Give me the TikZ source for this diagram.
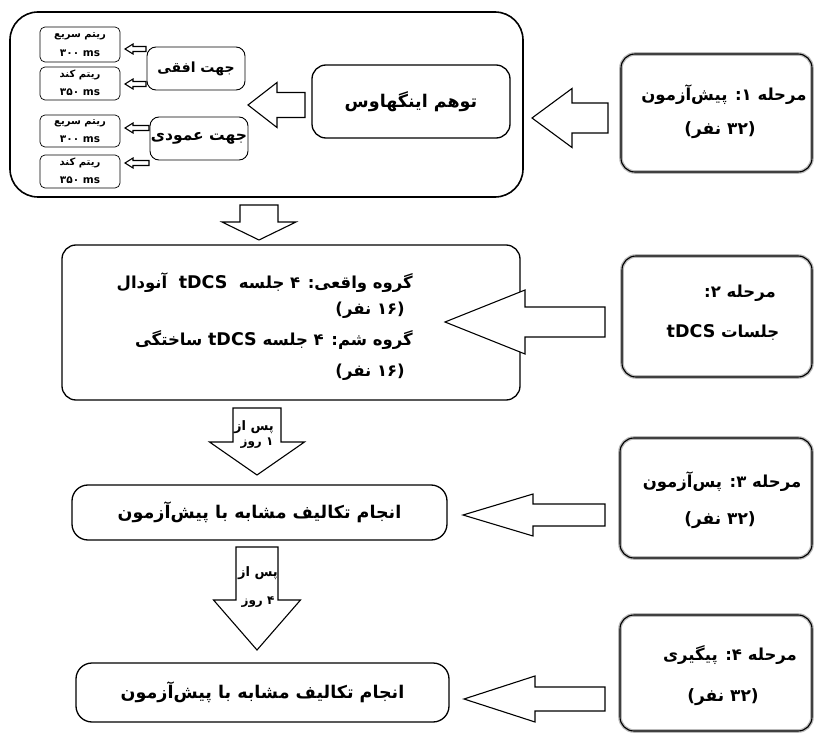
\documentclass[tikz,border=0pt]{standalone}
\usepackage{fontspec}
\TeXXeTstate=1
\newfontfamily\fa[Script=Arabic]{DejaVu Sans}
\newfontfamily\la{DejaVu Sans}
\newcommand\rl[1]{\beginR #1\endR}
% Latin run inside right-to-left text, at a given size
\newcommand\lt[2]{\beginL{\la\bfseries\fontsize{#1}{#1}\selectfont #2}\endL{}}

% left-pointing hollow block arrow: tip x, tail x, centre y, head length, head half-width, shaft half-width
\newcommand\larr[6]{%
  \draw[blk] (#1,#3) -- (#1+#4,#3-#5) -- (#1+#4,#3-#6) -- (#2,#3-#6)
    -- (#2,#3+#6) -- (#1+#4,#3+#6) -- (#1+#4,#3+#5) -- cycle;}
% downward hollow block arrow: centre x, top y, tip y, head length, head half-width, shaft half-width
\newcommand\darr[6]{%
  \draw[blk] (#1,#3) -- (#1-#5,#3-#4) -- (#1-#6,#3-#4) -- (#1-#6,#2)
    -- (#1+#6,#2) -- (#1+#6,#3-#4) -- (#1+#5,#3-#4) -- cycle;}

\begin{document}
\begin{tikzpicture}[x=1pt,y=-1pt,
  rbox/.style={draw, line width=1.3, rounded corners=14, inner sep=0pt},
  smallbox/.style={draw, line width=0.7, rounded corners=5, inner sep=0pt},
  dirbox/.style={draw, line width=0.9, rounded corners=9, inner sep=0pt},
  stagebox/.style={draw, line width=1.1, rounded corners=14, inner sep=0pt,
    preaction={draw=gray!55, line width=3.6}},
  blk/.style={draw, line width=1.1, fill=white, line join=miter},
  fatxt/.style={inner sep=0pt, font=\fa\bfseries\fontsize{#1}{#1}\selectfont},
  fatxt/.default=13]
\useasboundingbox (0,0) rectangle (815,733);

% ---------- stage 1: pre-test ----------
\node[rbox, rounded corners=28, line width=1.6, minimum width=513, minimum height=185] (outer) at (266.5,104.5) {};
\node[rbox, minimum width=198, minimum height=73] (tav) at (411,101.5) {};
\node[fatxt=17.5] (tavt) at (tav.center) {\rl{توهم اینگهاوس}};

\node[dirbox, minimum width=98, minimum height=43] (dirH) at (196,68.5) {};
\node[fatxt=14] (dirHt) at (dirH.center) {\rl{جهت افقی}};
\node[dirbox, minimum width=98, minimum height=43] (dirV) at (199,138.5) {};
\node[fatxt=15.5] (dirVt) at (dirV.center) {\rl{جهت عمودی}};

\node[smallbox, minimum width=80, minimum height=35] (r1) at (80,44.5) {};
\node[smallbox, minimum width=80, minimum height=33] (r2) at (80,83.5) {};
\node[smallbox, minimum width=80, minimum height=32] (r3) at (80,131) {};
\node[smallbox, minimum width=80, minimum height=33] (r4) at (80,171.5) {};
\node[fatxt=10] (r1a) at (80,36) {\rl{ریتم سریع}};
\node[fatxt=10.5] (r1b) at (80,53) {۳۰۰ \lt{10.5}{ms}};
\node[fatxt=10] (r2a) at (80,75) {\rl{ریتم کند}};
\node[fatxt=10.5] (r2b) at (80,92) {۳۵۰ \lt{10.5}{ms}};
\node[fatxt=10] (r3a) at (80,123) {\rl{ریتم سریع}};
\node[fatxt=10.5] (r3b) at (80,139) {۳۰۰ \lt{10.5}{ms}};
\node[fatxt=10] (r4a) at (80,163) {\rl{ریتم کند}};
\node[fatxt=10.5] (r4b) at (80,180) {۳۵۰ \lt{10.5}{ms}};

\larr{125}{146}{49}{8}{5}{2.5}
\larr{125}{146}{84}{8}{5}{2.5}
\larr{125}{149}{128}{8}{5}{2.5}
\larr{125}{149}{163}{8}{5}{2.5}
\larr{248}{305}{105}{29}{22.5}{12.5}

\node[stagebox, minimum width=191, minimum height=118] (s1) at (716.5,113) {};
\node[fatxt=16.5] (s1a) at (724,95) {\rl{مرحله ۱: پیش^^^^200cآزمون}};
\node[fatxt=17] (s1b) at (720,130) {\rl{(۳۲ نفر)}};
\larr{532}{608}{118}{40}{29.5}{15}

% ---------- stage 2: tDCS sessions ----------
\darr{259}{205}{240}{18}{37}{19}
\node[rbox, minimum width=458, minimum height=155] (tdcs) at (291,322.5) {};
\node[fatxt=16.5, anchor=east] (g1) at (413,283) {\rl{گروه واقعی: ۴ جلسه \ \lt{17.5}{tDCS} \ آنودال}};
\node[fatxt=16.5, anchor=east] (g1n) at (405,310) {\rl{(۱۶ نفر)}};
\node[fatxt=16.5, anchor=east] (g2) at (413,340) {\rl{گروه شم: ۴ جلسه \lt{17.5}{tDCS} ساختگی}};
\node[fatxt=16.5, anchor=east] (g2n) at (405,372) {\rl{(۱۶ نفر)}};

\node[stagebox, minimum width=190, minimum height=121] (s2) at (717,316.5) {};
\node[fatxt=16.5] (s2a) at (740,293) {\rl{مرحله ۲:}};
\node[fatxt=16.5] (s2b) at (723,332) {\rl{جلسات \lt{17.5}{tDCS}}};
\larr{445}{605}{322}{80}{32}{15}

% ---------- stage 3: post-test ----------
\darr{257}{408}{475}{33}{47.5}{24}
\node[fatxt=13] (d2a) at (254,427) {\rl{پس از}};
\node[fatxt=12] (d2b) at (257,443) {\rl{۱ روز}};
\node[rbox, rounded corners=16, minimum width=375, minimum height=55] (post) at (259.5,512.5) {};
\node[fatxt=17.5] (postt) at (post.center) {\rl{انجام تکالیف مشابه با پیش^^^^200cآزمون}};

\node[stagebox, minimum width=192, minimum height=120] (s3) at (716,498) {};
\node[fatxt=16.5] (s3a) at (722,482) {\rl{مرحله ۳: پس^^^^200cآزمون}};
\node[fatxt=17] (s3b) at (720,520) {\rl{(۳۲ نفر)}};
\larr{463}{605}{515}{70}{21}{11}

% ---------- stage 4: follow-up ----------
\darr{257}{547}{650}{50}{43.5}{21}
\node[fatxt=13] (d3a) at (258,573) {\rl{پس از}};
\node[fatxt=12] (d3b) at (258,602) {\rl{۴ روز}};
\node[rbox, rounded corners=16, minimum width=373, minimum height=59] (follow) at (262.5,692.5) {};
\node[fatxt=17.5] (followt) at (follow.center) {\rl{انجام تکالیف مشابه با پیش^^^^200cآزمون}};

\node[stagebox, minimum width=192, minimum height=116] (s4) at (716,673) {};
\node[fatxt=16.5] (s4a) at (730,655) {\rl{مرحله ۴: پیگیری}};
\node[fatxt=17] (s4b) at (723,697) {\rl{(۳۲ نفر)}};
\larr{464}{605}{699}{71}{23}{12}
\end{tikzpicture}
\end{document}
